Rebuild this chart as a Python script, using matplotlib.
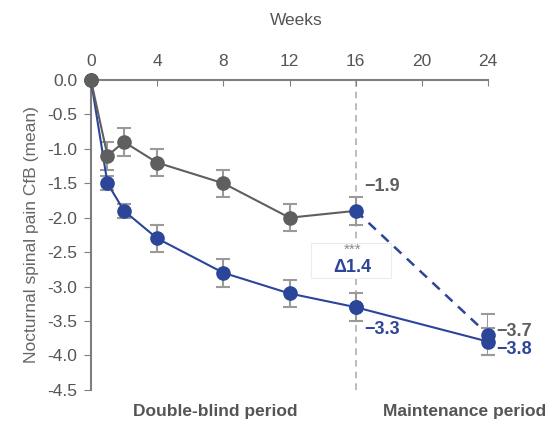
import numpy as np
import matplotlib.pyplot as plt
from matplotlib.patches import Rectangle

plt.rcParams['font.family'] = ['Liberation Sans', 'DejaVu Sans']

# Data: mean change from baseline
weeks_db = [0, 1, 2, 4, 8, 12, 16]
placebo = [0.0, -1.1, -0.9, -1.2, -1.5, -2.0, -1.9]
placebo_err = [0.0, 0.2, 0.2, 0.2, 0.2, 0.2, 0.2]
active = [0.0, -1.5, -1.9, -2.3, -2.8, -3.1, -3.3]
active_err = [0.0, 0.1, 0.1, 0.2, 0.2, 0.2, 0.2]

weeks_maint = [16, 24]
active_maint = [-3.3, -3.8]
active_maint_err = [0.2, 0.2]
switch_maint = [-1.9, -3.7]
switch_maint_err = [0.2, 0.3]

xticks = [0, 4, 8, 12, 16, 20, 24]
yticks = [0.0, -0.5, -1.0, -1.5, -2.0, -2.5, -3.0, -3.5, -4.0, -4.5]

gray = '#5f5f5f'
blue = '#2b4599'
errc = '#9a9a9a'
axc = '#7f7f7f'

fig = plt.figure(figsize=(5.51, 4.21), dpi=100)
ax = fig.add_axes([0.165, 0.074, 0.721, 0.736])

# vertical dashed line at week 16
ax.axvline(16, color='#b0b0b0', lw=1.2, ls=(0, (4, 3)), zorder=1)

# error bars
ax.errorbar(weeks_db[1:], placebo[1:], yerr=placebo_err[1:], fmt='none',
            ecolor=errc, elinewidth=1.5, capsize=5, capthick=1.5, zorder=2)
ax.errorbar(weeks_db[1:], active[1:], yerr=active_err[1:], fmt='none',
            ecolor=errc, elinewidth=1.5, capsize=5, capthick=1.5, zorder=2)
ax.errorbar(weeks_maint[1:], switch_maint[1:], yerr=switch_maint_err[1:], fmt='none',
            ecolor=errc, elinewidth=1.5, capsize=5, capthick=1.5, zorder=2)
ax.errorbar(weeks_maint[1:], active_maint[1:], yerr=active_maint_err[1:], fmt='none',
            ecolor=errc, elinewidth=1.5, capsize=5, capthick=1.5, zorder=2)

# lines
ax.plot(weeks_maint, switch_maint, color=blue, lw=1.8, ls=(0, (4, 3)), zorder=3)
ax.plot(weeks_db, active, color=blue, lw=1.5, marker='o', ms=9.5, zorder=4)
ax.plot(weeks_maint, active_maint, color=blue, lw=1.5, marker='o', ms=9.5, zorder=4)
ax.plot(weeks_db[:-1], placebo[:-1], color=gray, lw=1.5, marker='o', ms=9.5, zorder=5)
ax.plot(weeks_db[-2:], placebo[-2:], color=gray, lw=1.5, zorder=5)
ax.plot(weeks_maint, switch_maint, color=blue, lw=0, marker='o', ms=9.5, zorder=6)

# value labels
lab = dict(fontsize=13, fontweight='bold', va='center')
ax.text(16.5, -1.55, '\u22121.9', color=gray, **lab)
ax.text(16.5, -3.63, '\u22123.3', color=blue, **lab)
ax.text(24.5, -3.65, '\u22123.7', color=gray, **lab)
ax.text(24.5, -3.92, '\u22123.8', color=blue, **lab)

# delta annotation
ax.add_patch(Rectangle((13.3, -2.87), 4.8, 0.5, fill=True, facecolor='white',
                       edgecolor='#ececec', lw=0.8, zorder=6))
ax.text(15.8, -2.47, '***', color='#8a8a8a', fontsize=11, ha='center', va='center', zorder=7)
ax.text(15.8, -2.73, '\u03941.4', color=blue, fontsize=13, fontweight='bold',
        ha='center', va='center', zorder=7)

# axes styling
ax.set_xlim(0, 24)
ax.set_ylim(-4.5, 0)
ax.xaxis.tick_top()
ax.set_xticks(xticks)
ax.set_yticks(yticks)
ax.set_yticklabels([f'{v:.1f}' for v in yticks])
ax.tick_params(axis='x', direction='in', length=4, color=axc, labelcolor='#555555',
               labelsize=12.5, pad=8)
ax.tick_params(axis='y', direction='out', length=5, color=axc, labelcolor='#555555',
               labelsize=12.5, pad=5)
for s in ['right', 'bottom']:
    ax.spines[s].set_visible(False)
for s in ['top', 'left']:
    ax.spines[s].set_color(axc)
    ax.spines[s].set_linewidth(1.5)
ax.set_ylabel('Nocturnal spinal pain CfB (mean)', color='#666666', fontsize=12.5,
              labelpad=6)

for ln in ax.lines[1:]:
    ln.set_clip_on(False)

fig.text(0.537, 0.952, 'Weeks', color='#555555', fontsize=12.5, ha='center', va='center')
fig.text(0.39, 0.022, 'Double-blind period', color='#555555', fontsize=12.5,
         fontweight='bold', ha='center', va='center')
fig.text(0.843, 0.022, 'Maintenance period', color='#555555', fontsize=12.5,
         fontweight='bold', ha='center', va='center')

fig.savefig('out.png', dpi=100)
